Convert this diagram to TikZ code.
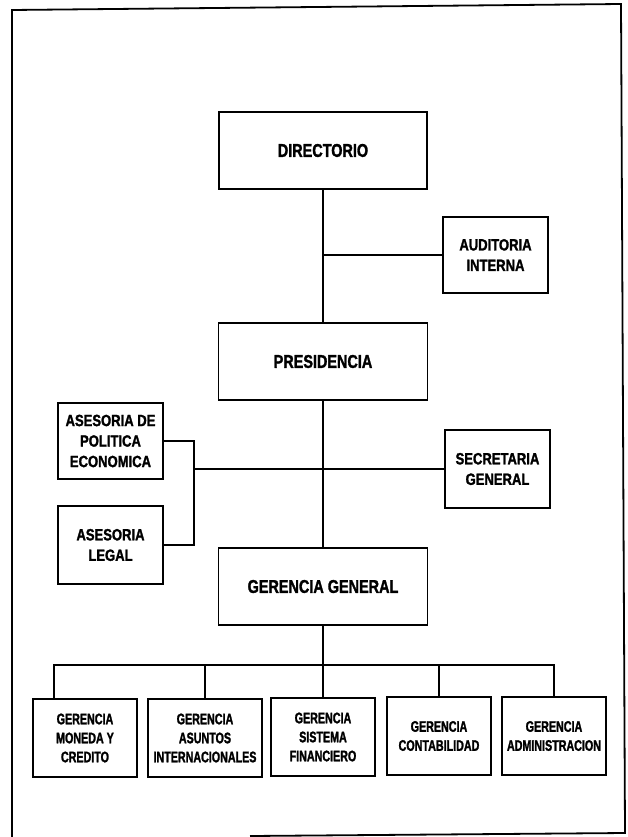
\documentclass[tikz,border=0pt]{standalone}
\usepackage{fontspec}
\setmainfont{Liberation Sans}
\newfontfamily\condA{Liberation Sans}[FakeStretch=0.78, BoldFeatures={FakeBold=1.5}]
\newfontfamily\condS{Liberation Sans}[FakeStretch=0.8, BoldFeatures={FakeBold=1.5}]
\newfontfamily\condB{Liberation Sans}[FakeStretch=0.7, BoldFeatures={FakeBold=1.5}]
\tikzset{
  orgbox/.style={draw, line width=1.7pt, inner sep=0pt, align=center},
  mainbox/.style={orgbox, minimum width=208pt, minimum height=77pt,
    font=\condA\bfseries\fontsize{18.5}{22}\selectfont},
  sidebox/.style={orgbox, minimum width=105pt, minimum height=77pt,
    font=\condS\bfseries\fontsize{16.3}{20.5}\selectfont},
  botbox/.style={orgbox, minimum height=78pt,
    font=\condB\bfseries\fontsize{15.3}{19}\selectfont},
  link/.style={line width=1.6pt},
  frameline/.style={line width=1.8pt},
}
\begin{document}
\begin{tikzpicture}[x=1pt,y=-1pt]
\useasboundingbox (0,0) rectangle (627,837);
% frame
\draw[frameline] (250,836) -- (625,833) -- (621,4) -- (12,10) -- (12,837);
% nodes
\node[mainbox] (dir) at (323,150.5) {DIRECTORIO};
\node[sidebox, minimum height=76pt] (aud) at (495.5,255) {AUDITORIA\\INTERNA};
\node[mainbox, minimum width=209pt] (pres) at (323,361.5) {PRESIDENCIA};
\node[sidebox, minimum height=76pt] (pol) at (110.5,441) {ASESORIA DE\\POLITICA\\ECONOMICA};
\node[sidebox, minimum height=78pt] (sec) at (497.5,469) {SECRETARIA\\GENERAL};
\node[sidebox, minimum height=78pt] (legal) at (110.5,545) {ASESORIA\\LEGAL};
\node[mainbox, minimum width=209pt] (gg) at (323,586.5) {GERENCIA GENERAL};
\node[botbox, minimum width=104pt] (moneda) at (85,738) {GERENCIA\\MONEDA Y\\CREDITO};
\node[botbox, minimum width=114pt] (asuntos) at (205,738) {GERENCIA\\ASUNTOS\\INTERNACIONALES};
\node[botbox, minimum width=104pt] (sistema) at (323,737) {GERENCIA\\SISTEMA\\FINANCIERO};
\node[botbox, minimum width=104pt] (contab) at (439,736) {GERENCIA\\CONTABILIDAD};
\node[botbox, minimum width=104pt] (admin) at (554,736) {GERENCIA\\ADMINISTRACION};
% helper coordinates
\coordinate (brk) at (194,469);
\coordinate (bus) at (323,665);
% connectors
\draw[link] (dir.south) -- (pres.north);
\draw[link] (aud.west) -- (aud.west -| dir.south);
\draw[link] (pres.south) -- (gg.north);
\draw[link] (pol.east) -| (brk) |- (legal.east);
\draw[link] (brk) -- (sec.west);
\draw[link] (gg.south) -- (bus);
\draw[link] ([xshift=22pt]moneda.north west) |- (bus) -| (admin.north);
\draw[link] (asuntos.north) -- (asuntos.north |- bus);
\draw[link] (sistema.north) -- (sistema.north |- bus);
\draw[link] (contab.north) -- (contab.north |- bus);
\end{tikzpicture}
\end{document}
